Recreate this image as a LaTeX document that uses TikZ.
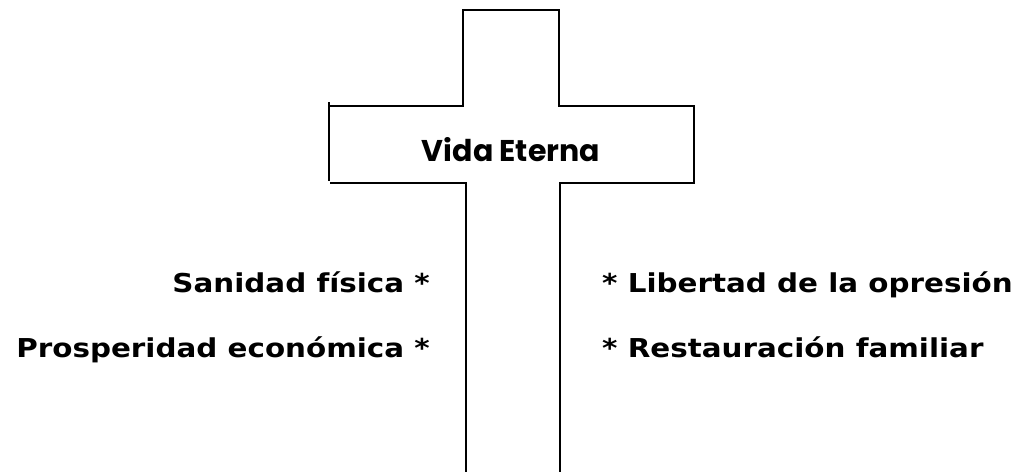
\documentclass[tikz,border=0pt]{standalone}
\usepackage{fontspec}
\newfontfamily\verdana[FakeStretch=1.13]{DejaVu Sans}
\newfontfamily\gothic{Poppins}
\begin{document}
\begin{tikzpicture}[
    x=1pt, y=-1pt,
    outline/.style={draw=black, line width=1.9pt, line cap=rect},
    gift/.style={inner sep=0pt, font=\verdana\bfseries\fontsize{26}{30}\selectfont},
    title/.style={inner sep=0pt, font=\gothic\bfseries\fontsize{30}{36}\selectfont}
  ]
  \useasboundingbox (0, 0) rectangle (1012, 472);

  % cross
  \draw[outline] (463, 10) -- (559, 10) -- (559, 106) -- (694, 106)
    -- (694, 183) -- (560, 183) -- (560, 471);
  \draw[outline] (466, 471) -- (466, 183) -- (331, 183);
  \draw[outline] (329, 103) -- (329, 180);
  \draw[outline] (331, 106) -- (463, 106) -- (463, 10);

  \node[title, anchor=base] (vida) at (511, 161) {Vida Eterna};

  % left side
  \node[gift, anchor=base east] (sanidad) at (430, 292) {Sanidad física *};
  \node[gift, anchor=base east] (prosperidad) at (430, 357) {Prosperidad económica *};

  % right side
  \node[gift, anchor=base west] (libertad) at (602, 292) {* Libertad de la opresión};
  \node[gift, anchor=base west] (restauracion) at (602, 357) {* Restauración familiar};

\end{tikzpicture}
\end{document}
